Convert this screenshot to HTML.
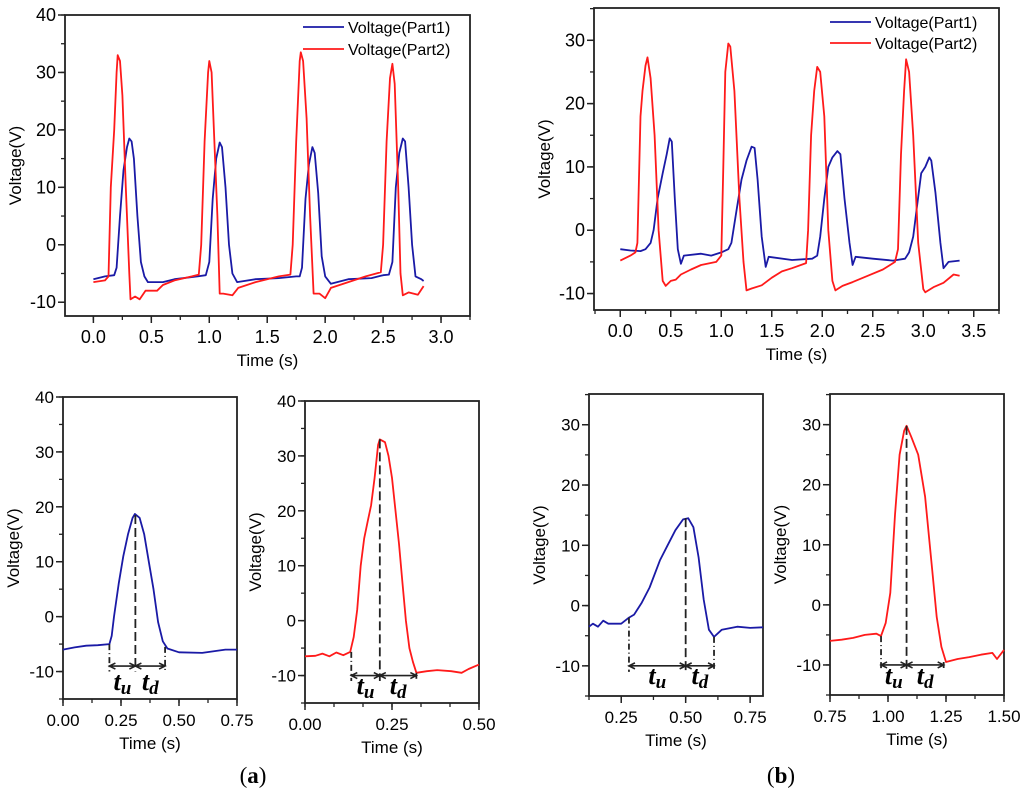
<!DOCTYPE html>
<html><head><meta charset="utf-8">
<style>
html,body{margin:0;padding:0;background:#fff;}
svg{display:block;font-family:"Liberation Sans",sans-serif;}
</style></head>
<body>
<svg id="fig" width="1024" height="795" viewBox="0 0 1024 795" xmlns="http://www.w3.org/2000/svg"></svg>
<script>
// ---- data (time s, voltage V) ----
const aP1t=[0,0.1,0.18,0.2,0.23,0.26,0.29,0.31,0.33,0.35,0.38,0.41,0.44,0.47,0.6,0.7,0.9,0.97,1.0,1.03,1.06,1.09,1.11,1.14,1.17,1.2,1.24,1.4,1.6,1.75,1.78,1.8,1.83,1.86,1.89,1.91,1.94,1.97,2.0,2.05,2.2,2.4,2.5,2.55,2.58,2.61,2.64,2.67,2.69,2.72,2.75,2.78,2.83,2.85];
const aP1v=[-6,-5.5,-5.3,-4,5,13,17,18.5,18,15,5,-3,-5.5,-6.5,-6.5,-6,-5.5,-5.3,-3,8,15,17.8,17,10,0,-5,-6.5,-6,-5.8,-5.5,-5.5,-4,8,14,17,16,9,-2,-5.5,-6.8,-6,-5.8,-5.3,-5.2,-3,10,16,18.5,18,10,0,-5.5,-6,-6.3];
const aP2t=[0,0.1,0.13,0.15,0.18,0.2,0.21,0.23,0.25,0.28,0.31,0.32,0.36,0.4,0.45,0.55,0.6,0.7,0.85,0.91,0.93,0.96,0.99,1.0,1.02,1.04,1.07,1.09,1.12,1.2,1.25,1.4,1.6,1.7,1.72,1.75,1.78,1.79,1.81,1.84,1.87,1.9,1.95,2.0,2.05,2.2,2.35,2.48,2.5,2.53,2.56,2.58,2.6,2.63,2.65,2.67,2.72,2.8,2.85];
const aP2v=[-6.5,-6.2,-5.5,10,20,30,33,32,26,10,-5,-9.5,-9,-9.5,-8,-8,-7,-6.2,-5.5,-5.2,0,18,30,32,30,20,5,-8.5,-8.5,-8.8,-7.5,-6.5,-5.5,-5.2,0,18,32,33.5,32,22,5,-8.5,-8.5,-9.3,-7.5,-6.5,-5.5,-4.8,0,18,29,31.5,28,10,-5,-8.8,-8.3,-8.7,-7.2];
const bP1t=[0,0.1,0.2,0.25,0.3,0.33,0.37,0.42,0.46,0.49,0.51,0.54,0.57,0.6,0.63,0.8,0.9,1.0,1.07,1.1,1.15,1.2,1.25,1.3,1.33,1.36,1.4,1.44,1.47,1.7,1.9,1.95,1.98,2.02,2.06,2.1,2.15,2.18,2.22,2.27,2.3,2.33,2.5,2.7,2.82,2.86,2.9,2.94,2.98,3.02,3.06,3.08,3.12,3.17,3.2,3.25,3.36];
const bP1v=[-3,-3.2,-3.3,-3,-2,0,5,9,12,14.5,14,5,-3,-5.3,-4,-3.7,-4,-3.5,-3,-2,3,8,11,13.2,13,8,-1,-5.8,-4.2,-4.7,-4.5,-4,-1,5,10,11.5,12.5,12,5,-2,-5.5,-4.2,-4.5,-4.8,-4.5,-3.5,-1,4,9,10,11.5,11,6,-2,-6,-5,-4.8];
const bP2t=[0,0.1,0.15,0.17,0.2,0.22,0.25,0.27,0.3,0.34,0.38,0.42,0.45,0.5,0.55,0.6,0.7,0.8,0.95,1.0,1.02,1.04,1.07,1.09,1.13,1.18,1.22,1.25,1.3,1.4,1.5,1.6,1.7,1.84,1.86,1.89,1.92,1.95,1.98,2.02,2.06,2.1,2.13,2.2,2.3,2.45,2.6,2.72,2.75,2.78,2.81,2.83,2.86,2.9,2.95,3.0,3.02,3.1,3.2,3.3,3.36];
const bP2v=[-4.8,-4,-3.5,-2,18,22,26,27.3,24,15,0,-8,-8.8,-8,-7.8,-7,-6.2,-5.5,-5,-4,10,25,29.5,29,22,5,-5,-9.5,-9.2,-8.7,-7.5,-6.5,-6,-5.2,0,15,22,25.8,25,18,0,-8,-9.5,-8.8,-8.2,-7.2,-6.2,-5,-3,12,22,27,25,15,-2,-9.3,-9.8,-9,-8.3,-7,-7.2];
const a1t=[0,0.05,0.1,0.15,0.2,0.21,0.22,0.24,0.26,0.28,0.3,0.31,0.33,0.35,0.37,0.39,0.41,0.43,0.45,0.5,0.6,0.7,0.75];
const a1v=[-6,-5.6,-5.3,-5.2,-5,-3.5,0,6,11,15,18,18.7,18,15,10,5,-1,-4.5,-5.8,-6.5,-6.6,-6,-6];
const a2t=[0,0.03,0.05,0.07,0.09,0.11,0.13,0.14,0.15,0.16,0.17,0.18,0.19,0.2,0.21,0.215,0.23,0.24,0.25,0.26,0.27,0.28,0.29,0.3,0.31,0.32,0.35,0.38,0.42,0.45,0.47,0.5];
const a2v=[-6.5,-6.4,-6,-6.5,-5.8,-6.3,-5.7,-3,2,10,15,18,21,26,32,33,32.5,30,26,20,14,7,0,-5,-7.5,-9.5,-9.2,-9,-9.2,-9.5,-8.8,-8];
const b1t=[0.125,0.14,0.16,0.18,0.2,0.25,0.28,0.3,0.33,0.36,0.4,0.43,0.46,0.49,0.51,0.53,0.55,0.57,0.59,0.61,0.64,0.7,0.75,0.8];
const b1v=[-3.5,-3,-3.5,-2.5,-3,-3,-2,-1.5,0.5,3,7.5,10,12.5,14.3,14.5,13,8,1,-4,-5.2,-4,-3.5,-3.7,-3.6];
const b2t=[0.75,0.8,0.85,0.9,0.95,0.97,0.99,1.01,1.03,1.05,1.07,1.08,1.1,1.13,1.16,1.19,1.21,1.23,1.25,1.3,1.35,1.4,1.45,1.47,1.5];
const b2v=[-6,-5.8,-5.5,-5,-4.8,-5.2,-3,2,15,25,29,29.8,28,25,18,6,-2,-7,-9.5,-9,-8.7,-8.3,-8,-9,-7.5];
// markers: [start, peak, end] times and their start/peak/end voltages
const a1Mark=[0.2,0.312,0.44]; const a1MarkV=[-5,18.5,-5.5];
const a2Mark=[0.133,0.215,0.32]; const a2MarkV=[-5.7,33,-9.5];
const b1Mark=[0.28,0.5,0.61]; const b1MarkV=[-2,14.5,-5.2];
const b2Mark=[0.97,1.08,1.24]; const b2MarkV=[-5.2,29.8,-9.5];
const aTopX=["0.0","0.5","1.0","1.5","2.0","2.5","3.0"];
const aTopY=["-10","0","10","20","30","40"];
const bTopX=["0.0","0.5","1.0","1.5","2.0","2.5","3.0","3.5"];
const bTopY=["-10","0","10","20","30"];
const legendNames=["Voltage(Part1)","Voltage(Part2)"];

const NS="http://www.w3.org/2000/svg";
const svg=document.getElementById('fig');
function mk(tag,attrs,parent){const e=document.createElementNS(NS,tag);for(const k in attrs)e.setAttribute(k,attrs[k]);(parent||svg).appendChild(e);return e;}
const BLUE="#1a1aa6",RED="#ff1a1a";

function panel(name,box,xd,yd,xt,yt,xminor,yminor,fs){
  const g=mk('g',{});
  
  
  const X=v=>box.x0+(v-xd[0])/(xd[1]-xd[0])*(box.x1-box.x0);
  const Y=v=>box.y1-(v-yd[0])/(yd[1]-yd[0])*(box.y1-box.y0);
  const fr=mk('rect',{x:box.x0,y:box.y0,width:box.x1-box.x0,height:box.y1-box.y0,fill:'none',stroke:'#222','stroke-width':1.8},g);
  
  
  for(let v=Math.ceil(xd[0]/xminor-1e-6)*xminor;v<=xd[1]+1e-9;v+=xminor){
    const tk=mk('line',{x1:X(v),x2:X(v),y1:box.y1,y2:box.y1+4,stroke:'#222','stroke-width':1.3},g);
    
    
  }
  for(let v=Math.ceil(yd[0]/yminor-1e-6)*yminor;v<=yd[1]+1e-9;v+=yminor){
    const tk=mk('line',{x1:box.x0-4,x2:box.x0,y1:Y(v),y2:Y(v),stroke:'#222','stroke-width':1.3},g);
    
    
  }
  xt.forEach(s=>{const v=parseFloat(s);
    const tk=mk('line',{x1:X(v),x2:X(v),y1:box.y1,y2:box.y1+7,stroke:'#222','stroke-width':1.5},g);
    
    
    const t=mk('text',{x:X(v),y:box.y1+27,'text-anchor':'middle','font-size':fs},g);t.textContent=s;
    
    
  });
  yt.forEach(s=>{const v=parseFloat(s);
    const tk=mk('line',{x1:box.x0-7,x2:box.x0,y1:Y(v),y2:Y(v),stroke:'#222','stroke-width':1.5},g);
    
    
    const t=mk('text',{x:box.x0-9,y:Y(v)+6,'text-anchor':'end','font-size':fs},g);t.textContent=s;
    
    
  });
  const xl=mk('text',{x:(box.x0+box.x1)/2,y:box.y1+50,'text-anchor':'middle','font-size':17},g);xl.textContent="Time (s)";
  
  
  const cy=(box.y0+box.y1)/2, cx=box.x0-44;
  const yl=mk('text',{x:cx,y:cy,'text-anchor':'middle','font-size':17,transform:`rotate(-90 ${cx} ${cy})`},g);yl.textContent="Voltage(V)";
  
  
  return {g,X,Y};
}
function series(p,ts,vs,color,name){
  const d=ts.map((t,i)=>(i?'L':'M')+p.X(t).toFixed(1)+','+p.Y(vs[i]).toFixed(1)).join('');
  const e=mk('path',{d,fill:'none',stroke:color,'stroke-width':1.8,'stroke-linejoin':'round'},p.g);
  
  
}
function legend(p,x,y,dy){
  [BLUE,RED].forEach((c,i)=>{
    const l=mk('line',{x1:x,x2:x+41,y1:y+i*dy,y2:y+i*dy,stroke:c,'stroke-width':1.8},p.g);
    
    
    const t=mk('text',{x:x+45,y:y+i*dy+6,'font-size':16},p.g);t.textContent=legendNames[i];
    
    
  });
}
function markers(p,ts,vs,yArrow,yLbl){
  const base=p.Y(yArrow-1);
  ts.forEach((t,i)=>{
    const l=mk('line',{x1:p.X(t),x2:p.X(t),y1:p.Y(vs[i]),y2:base,stroke:'#222','stroke-width':1.8,'stroke-dasharray':i==1?'9,4':'6,3,1,3'},p.g);
    
    
  });
  const ya=p.Y(yArrow);
  [[0,1],[1,2]].forEach(([a,b])=>{
    const x1=p.X(ts[a]),x2=p.X(ts[b]);
    const ar=mk('path',{d:`M${x1},${ya}L${x2},${ya}M${x1+6},${ya-3}L${x1},${ya}L${x1+6},${ya+3}M${x2-6},${ya-3}L${x2},${ya}L${x2-6},${ya+3}`,fill:'none',stroke:'#222','stroke-width':1.6},p.g);
    
    
  });
  const lbl=(x,main,sub,name)=>{const t=mk('text',{x,y:yLbl,'text-anchor':'middle','font-family':'"Liberation Serif",serif','font-size':26,'font-weight':'bold','font-style':'italic'},p.g);
    t.textContent=main;const s=mk('tspan',{'font-size':19,dy:4},t);s.textContent=sub;
    
    };
  lbl((p.X(ts[0])+p.X(ts[1]))/2,'t','u','tu-label');
  lbl((p.X(ts[1])+p.X(ts[2]))/2,'t','d','td-label');
}

const pA=panel('chart-a-full',{x0:65,x1:470,y0:15,y1:316},[-0.245,3.25],[-12.4,40],aTopX,aTopY,0.25,5,18);
series(pA,aP1t,aP1v,BLUE,'series-a-part1');series(pA,aP2t,aP2v,RED,'series-a-part2');legend(pA,303,27,22);
const pB=panel('chart-b-full',{x0:594,x1:999,y0:8,y1:310},[-0.26,3.75],[-12.6,35.1],bTopX,bTopY,0.25,5,18);
series(pB,bP1t,bP1v,BLUE,'series-b-part1');series(pB,bP2t,bP2v,RED,'series-b-part2');legend(pB,830,22,21);

const pA1=panel('chart-a-part1',{x0:63,x1:237,y0:397,y1:699},[0,0.75],[-15,40],["0.00","0.25","0.50","0.75"],aTopY,0.125,5,17);
series(pA1,a1t,a1v,BLUE,'series-a1');markers(pA1,a1Mark,a1MarkV,-9,690);
const pA2=panel('chart-a-part2',{x0:305,x1:479,y0:401,y1:703},[0,0.5],[-15,40],["0.00","0.25","0.50"],aTopY,0.0833333,5,17);
series(pA2,a2t,a2v,RED,'series-a2');markers(pA2,a2Mark,a2MarkV,-10,694);
const pB1=panel('chart-b-part1',{x0:589,x1:763,y0:394,y1:696},[0.125,0.8],[-15,35.1],["0.25","0.50","0.75"],bTopY,0.125,5,17);
series(pB1,b1t,b1v,BLUE,'series-b1');markers(pB1,b1Mark,b1MarkV,-10,684);
const pB2=panel('chart-b-part2',{x0:830,x1:1004,y0:394,y1:695},[0.75,1.5],[-15,35.1],["0.75","1.00","1.25","1.50"],bTopY,0.125,5,17);
series(pB2,b2t,b2v,RED,'series-b2');markers(pB2,b2Mark,b2MarkV,-10,684);

[['(a)',253,'panel-label-a'],['(b)',781,'panel-label-b']].forEach(([s,x,n])=>{
  const t=mk('text',{x,y:783,'text-anchor':'middle','font-family':'"Liberation Serif",serif','font-size':23},svg);
  t.textContent='(';const b=mk('tspan',{'font-weight':'bold'},t);b.textContent=s[1];const c=mk('tspan',{},t);c.textContent=')';
  
  
});
</script>
</body></html>
